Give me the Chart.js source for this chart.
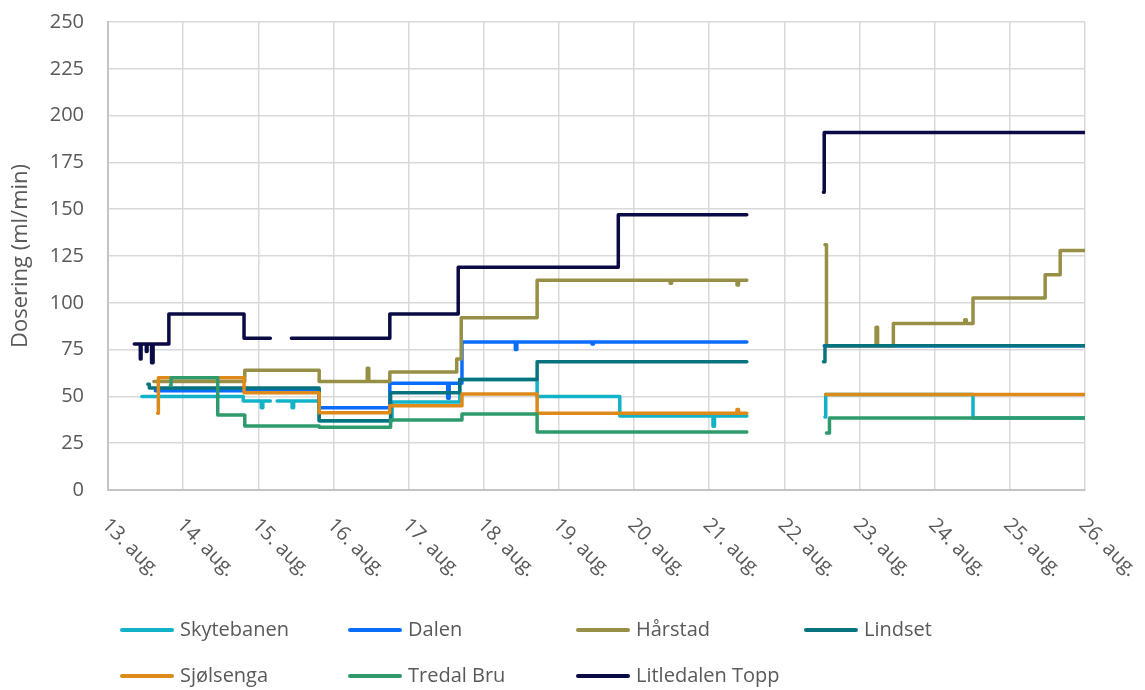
<!DOCTYPE html>
<html>
<head>
<meta charset="utf-8">
<script src="https://cdn.jsdelivr.net/npm/chart.js@4.4.1/dist/chart.umd.min.js"></script>
<style>
  html, body { margin: 0; padding: 0; background: #ffffff; }
  #wrap { width: 1145px; height: 690px; }
</style>
</head>
<body>
<div id="wrap"><canvas id="c" width="1145" height="690"></canvas></div>
<script>
// Day-of-month axis (August), with tick labels
const dayTicks = [13, 14, 15, 16, 17, 18, 19, 20, 21, 22, 23, 24, 25, 26];
const tickLabels = dayTicks.map(d => d + '. aug.');

// Dosing per station: change times (day, fractional) and new value (ml/min); null = no data
const skytebanenT = [13.45, 14.80, 15.04, 15.06, 15.16, 15.17, 15.25, 15.45, 15.47, 15.81, 16.78, 17.68, 18.71, 19.81, 21.05, 21.07, 21.50, 21.51, 22.54, 22.55, 24.51, 26.0];
const skytebanenV = [50, 47.5, 44, 47.5, 47.5, null, 47.5, 44, 47.5, 37, 47, 59, 50, 39.5, 34, 39.5, 39.5, null, 39, 51, 38.5, 38.5];

const dalenT = [13.63, 15.81, 16.75, 17.52, 17.54, 17.71, 18.42, 18.44, 19.44, 19.46, 21.50, 21.51, 22.53, 26.0];
const dalenV = [53, 44, 57, 49, 57, 79, 75, 79, 78, 79, 79, null, 77, 77];

const harstadT = [13.61, 14.82, 15.81, 16.45, 16.47, 16.75, 17.64, 17.70, 18.71, 20.48, 20.50, 21.37, 21.39, 21.50, 21.51, 22.54, 22.56, 23.22, 23.24, 23.45, 24.40, 24.42, 24.51, 25.47, 25.67, 26.0];
const harstadV = [58, 64, 58, 65, 58, 63, 70, 92, 112, 110.5, 112, 109.5, 112, 112, null, 131, 77, 87, 77, 89, 91, 89, 102.5, 115, 128, 128];

const lindsetT = [13.53, 13.55, 15.81, 16.76, 17.68, 18.71, 21.50, 21.51, 22.52, 22.54, 26.0];
const lindsetV = [56.5, 54.5, 37, 52, 59, 68.5, 68.5, null, 68.5, 77, 77];

const sjolsengaT = [13.66, 13.67, 14.81, 15.81, 16.75, 17.71, 18.71, 21.37, 21.39, 21.50, 21.51, 22.55, 26.0];
const sjolsengaV = [41, 60, 52, 41.3, 45, 51.3, 41, 43, 41, 41, null, 51, 51];

const tredalT = [13.83, 13.84, 14.46, 14.82, 15.81, 16.76, 17.71, 18.71, 21.50, 21.51, 22.56, 22.60, 26.0];
const tredalV = [56, 60, 40, 34.2, 33.5, 37.4, 40.6, 31, 31, null, 30.5, 38.5, 38.5];

const litledalenT = [13.35, 13.43, 13.44, 13.51, 13.52, 13.58, 13.60, 13.81, 14.81, 15.16, 15.17, 15.44, 16.75, 17.66, 19.79, 21.50, 21.51, 22.52, 22.53, 26.0];
const litledalenV = [78, 70, 78, 74, 78, 68, 78, 94, 81, 81, null, 81, 94, 119, 147, 147, null, 159, 191, 191];

const seriesNames = ['Skytebanen', 'Dalen', 'Hårstad', 'Lindset', 'Sjølsenga', 'Tredal Bru', 'Litledalen Topp'];
const seriesColors = ['#12b2c8', '#0a6cfa', '#988f47', '#07737f', '#de8a1a', '#2f9b6c', '#0a0a45'];
const seriesTimes = [skytebanenT, dalenT, harstadT, lindsetT, sjolsengaT, tredalT, litledalenT];
const seriesValues = [skytebanenV, dalenV, harstadV, lindsetV, sjolsengaV, tredalV, litledalenV];

const FONT = "'Open Sans', 'Noto Sans', sans-serif";
const TEXT = '#595959';

const datasets = seriesNames.map((name, i) => ({
  label: name,
  data: seriesTimes[i].map((t, k) => ({ x: t, y: seriesValues[i][k] })),
  borderColor: seriesColors[i],
  backgroundColor: seriesColors[i],
  borderWidth: 3.5,
  pointRadius: 0,
  // each point holds the new level from the previous change time onward
  stepped: 'before',
  spanGaps: false,
  borderJoinStyle: 'round',
  borderCapStyle: 'round',
  // later series are painted on top
  order: seriesNames.length - i
}));

// Rotated date labels under the x axis and a fixed-grid legend
const decorations = {
  id: 'decorations',
  afterDraw(chart) {
    const ctx = chart.ctx;
    const xs = chart.scales.x;
    const bottom = chart.chartArea.bottom;
    ctx.save();
    ctx.font = '20px ' + FONT;
    ctx.fillStyle = TEXT;
    dayTicks.forEach((d, i) => {
      const px = xs.getPixelForValue(d);
      ctx.save();
      ctx.translate(px - 3, bottom + 32);
      ctx.rotate(Math.PI / 4);
      ctx.textAlign = 'left';
      ctx.textBaseline = 'middle';
      ctx.fillText(tickLabels[i], 0, 0);
      ctx.restore();
    });

    const colX = [122, 350, 578, 806];
    const rowY = [630, 676];
    seriesNames.forEach((name, i) => {
      const x = colX[i % 4];
      const y = rowY[Math.floor(i / 4)];
      ctx.strokeStyle = seriesColors[i];
      ctx.lineWidth = 4;
      ctx.lineCap = 'round';
      ctx.beginPath();
      ctx.moveTo(x, y);
      ctx.lineTo(x + 50, y);
      ctx.stroke();
      ctx.fillStyle = TEXT;
      ctx.textAlign = 'left';
      ctx.textBaseline = 'middle';
      ctx.fillText(name, x + 58, y);
    });
    ctx.restore();
  }
};

new Chart(document.getElementById('c'), {
  type: 'line',
  data: { datasets },
  plugins: [decorations],
  options: {
    responsive: false,
    animation: false,
    events: [],
    layout: { padding: { left: 0, right: 60, top: 22, bottom: 0 } },
    plugins: { legend: { display: false }, tooltip: { enabled: false } },
    scales: {
      x: {
        type: 'linear',
        min: 13,
        max: 26,
        ticks: { display: false, stepSize: 1 },
        grid: { color: '#d9d9d9', lineWidth: 1.5, drawTicks: false },
        border: { color: '#c4c4c4', width: 2 },
        afterFit(scale) { scale.height = 200; }
      },
      y: {
        min: 0,
        max: 250,
        ticks: {
          stepSize: 25,
          padding: 24,
          color: TEXT,
          font: { family: FONT, size: 20 }
        },
        grid: { color: '#d9d9d9', lineWidth: 1.5, drawTicks: false },
        border: { color: '#c4c4c4', width: 2 },
        title: {
          display: true,
          text: 'Dosering (ml/min)',
          color: TEXT,
          font: { family: FONT, size: 22 },
          padding: { top: 8, bottom: 0 }
        },
        afterFit(scale) {
          scale.width = 108;
          scale.paddingTop = 0;
          scale.paddingBottom = 0;
        }
      }
    }
  }
});
</script>
</body>
</html>
